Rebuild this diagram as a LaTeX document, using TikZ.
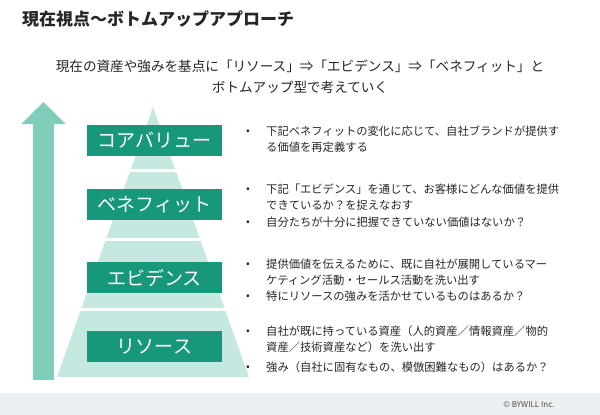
\documentclass[tikz,border=0pt]{standalone}
\usepackage{fontspec}
\setmainfont{Noto Sans CJK JP}
\usetikzlibrary{arrows.meta}
\definecolor{tealc}{HTML}{17987A}
\definecolor{pyrc}{HTML}{C5E8E0}
\definecolor{arrc}{HTML}{80CDBC}
\definecolor{footc}{HTML}{EDF0F2}
\definecolor{inkc}{HTML}{262626}
\newcommand{\layer}[3]{%
  \node[layerbox] (#1) at #2 {#3};
}
\newcommand{\point}[3]{%
  \node[dotmark] (#1d) at (248,#2) {•};
  \node[pointtext] (#1) at (266,{#2-6}) {#3};
}
\begin{document}
\begin{tikzpicture}[x=1pt, y=-1pt, inkc,
    layerbox/.style={fill=tealc, text=white, minimum width=135pt,
      minimum height=31pt, inner sep=0pt, font=\fontsize{19}{19}\selectfont},
    dotmark/.style={inner sep=0pt, font=\fontsize{11}{11}\selectfont},
    pointtext/.style={anchor=north west, align=left, inner sep=0pt,
      font=\fontsize{11.3}{15.5}\selectfont},
    rise/.style={arrc, line width=21pt, -{Triangle[length=22pt, width=43pt]}}]
  \useasboundingbox (0,0) rectangle (600,415);
  \fill[footc] (0,393) rectangle (600,415);
  \node[anchor=west, inner sep=0pt, font=\fontsize{17}{20}\selectfont\bfseries]
    (title) at (22,19) {現在視点～ボトムアップアプローチ};
  \node[align=center, inner sep=0pt, font=\fontsize{13.6}{21}\selectfont]
    (lead) at (300,77) {現在の資産や強みを基点に「リソース」⇒「エビデンス」⇒「ベネフィット」と\\
      ボトムアップ型で考えていく};
  \coordinate (foot) at (43.5,380);
  \coordinate (tip) at (43.5,102);
  \draw[rise] (foot) -- (tip);
  \fill[pyrc] (153,107) -- (249,377) -- (57,377) -- cycle;
  \foreach \g in {170.5,239.5,309} \draw[white, line width=3pt] (60,\g) -- (250,\g);
  \layer{core}{(154.5,140.5)}{コアバリュー}
  \layer{benefit}{(154.5,204.5)}{ベネフィット}
  \layer{evidence}{(154.5,277.5)}{エビデンス}
  \layer{resource}{(154.5,346.5)}{リソース}
  \point{p1}{132}{下記ベネフィットの変化に応じて、自社ブランドが提供す\\る価値を再定義する}
  \point{p2}{190}{下記「エビデンス」を通じて、お客様にどんな価値を提供\\できているか？を捉えなおす}
  \point{p3}{223}{自分たちが十分に把握できていない価値はないか？}
  \point{p4}{265}{提供価値を伝えるために、既に自社が展開しているマー\\ケティング活動・セールス活動を洗い出す}
  \point{p5}{297}{特にリソースの強みを活かせているものはあるか？}
  \point{p6}{332}{自社が既に持っている資産（人的資産／情報資産／物的\\資産／技術資産など）を洗い出す}
  \point{p7}{368}{強み（自社に固有なもの、模倣困難なもの）はあるか？}
  \node[inner sep=0pt, text=black!70, font=\fontsize{8}{8}\selectfont]
    (copy) at (529,405) {© BYWILL Inc.};
\end{tikzpicture}
\end{document}
